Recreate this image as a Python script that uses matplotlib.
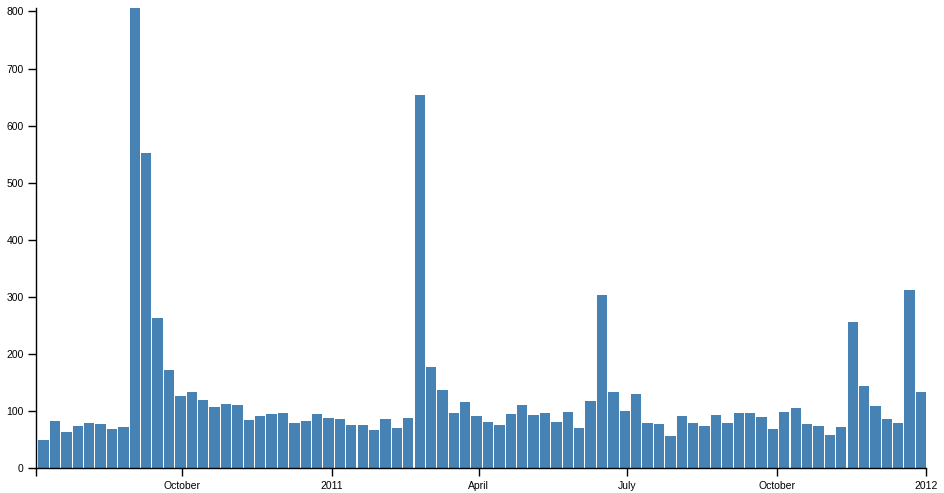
import numpy as np
import pandas as pd
import matplotlib
matplotlib.use("Agg")
import matplotlib.pyplot as plt
import matplotlib.dates as mdates

# weekly counts, weeks starting Sunday 2010-07-04
week_start = pd.date_range("2010-07-04", periods=78, freq="7D")
counts = [49, 82, 64, 74, 80, 77, 68, 72, 808, 552,
          264, 172, 127, 133, 119, 107, 113, 110, 85, 91,
          95, 96, 80, 82, 95, 88, 86, 75, 75, 67,
          87, 70, 88, 654, 177, 137, 96, 116, 91, 81,
          75, 95, 110, 94, 96, 81, 99, 70, 118, 304,
          133, 101, 130, 80, 77, 56, 91, 79, 74, 94,
          80, 96, 97, 89, 68, 99, 105, 78, 74, 58,
          73, 256, 144, 109, 87, 80, 313, 133]

tick_dates = ["2010-10-01", "2011-01-01", "2011-04-01", "2011-07-01", "2011-10-01", "2012-01-01"]
tick_labels = ["October", "2011", "April", "July", "October", "2012"]
y_ticks = [0, 100, 200, 300, 400, 500, 600, 700, 800]

plt.rcParams["font.family"] = ["Liberation Sans", "DejaVu Sans"]

fig = plt.figure(figsize=(9.45, 4.93), dpi=100)
W, H = 945, 493
ax = fig.add_axes([36.3 / W, (H - 468.3) / H, (926.3 - 36.3) / W, (468.3 - 8) / H])

x0 = mdates.date2num(pd.Timestamp("2010-07-03 06:00"))
x1 = mdates.date2num(pd.Timestamp("2012-01-01"))
left = mdates.date2num(week_start) + 0.6
ax.bar(left, counts, width=6.35, align="edge", color="#4682B4", linewidth=0)

ax.set_xlim(x0, x1)
ax.set_ylim(0, 806)

for s in ["top", "right"]:
    ax.spines[s].set_visible(False)
for s in ["left", "bottom"]:
    ax.spines[s].set_color("black")
    ax.spines[s].set_linewidth(1)

ax.set_yticks(y_ticks)
ax.set_yticklabels([str(v) for v in y_ticks])
ax.set_xticks(list(mdates.date2num(pd.to_datetime(tick_dates))) + [x0])
ax.set_xticklabels(tick_labels + [""])
ax.tick_params(axis="both", length=6, width=1, color="black", labelsize=7.5, pad=3)

fig.savefig("out.png", dpi=100)
